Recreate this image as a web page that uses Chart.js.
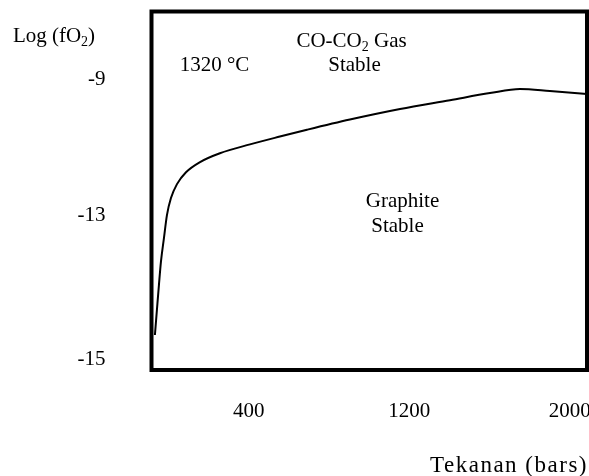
<!DOCTYPE html>
<html><head><meta charset="utf-8">
<script src="https://cdn.jsdelivr.net/npm/chart.js@4.4.1/dist/chart.umd.min.js"></script>
<style>html,body{margin:0;padding:0;background:#fff;}#wrap{width:589px;height:476px;position:relative;}</style>
</head><body><div id="wrap"><canvas id="c" width="589" height="476"></canvas></div>
<script>
// ---- data ----
const pressureBars = [-68, -58, -48, -38, -23, -8, 12, 42, 87, 157, 256, 406, 555, 690, 904, 1154, 1403, 1602, 1752, 1901, 2086];
const logFO2      = [-16.53, -15.79, -15.06, -14.38, -13.68, -13.0, -12.50, -12.09, -11.74, -11.44, -11.18, -10.92, -10.69, -10.49, -10.19, -9.88, -9.62, -9.41, -9.29, -9.35, -9.44];
const xTickValues = [400, 1200, 2000];
const xTickLabels = ['400', '1200', '2000'];
const yTickValues = [-17.26, -13, -9];
const yTickLabels = ['-15', '-13', '-9'];
const xTitle = 'Tekanan (bars)';
const yTitleParts = ['Log (fO', '2', ')'];
const tempLabel = '1320 °C';
const gasLabelParts = ['CO-CO', '2', ' Gas'];
const gasStable = 'Stable';
const graphiteLabel = 'Graphite';
const graphiteStable = 'Stable';

const FONT = '"Liberation Serif", "Times New Roman", serif';
const SIZE = 21;

function drawSub(ctx, parts, cx, cy, size) {
  ctx.font = size + 'px ' + FONT;
  const w0 = ctx.measureText(parts[0]).width;
  const w2 = ctx.measureText(parts[2]).width;
  const ss = Math.round(size * 0.65);
  ctx.font = ss + 'px ' + FONT;
  const w1 = ctx.measureText(parts[1]).width;
  let x = cx - (w0 + w1 + w2) / 2;
  ctx.textAlign = 'left';
  ctx.textBaseline = 'middle';
  ctx.font = size + 'px ' + FONT;
  ctx.fillText(parts[0], x, cy);
  x += w0;
  ctx.font = ss + 'px ' + FONT;
  ctx.fillText(parts[1], x, cy + size * 0.28);
  x += w1;
  ctx.font = size + 'px ' + FONT;
  ctx.fillText(parts[2], x, cy);
}

const frameAndLabels = {
  id: 'frameAndLabels',
  afterDatasetsDraw(chart) {
    const {ctx, chartArea: a} = chart;
    ctx.save();
    ctx.strokeStyle = '#000';
    ctx.lineWidth = 4;
    ctx.strokeRect(a.left, a.top, a.right - a.left, a.bottom - a.top);
    ctx.fillStyle = '#000';
    drawSub(ctx, yTitleParts, 54, 36, SIZE);
    ctx.font = SIZE + 'px ' + FONT;
    ctx.textAlign = 'center';
    ctx.textBaseline = 'middle';
    ctx.fillText(tempLabel, a.left + 63, a.top + 54);
    drawSub(ctx, gasLabelParts, a.left + 200, a.top + 30, SIZE);
    ctx.font = SIZE + 'px ' + FONT;
    ctx.textAlign = 'center';
    ctx.fillText(gasStable, a.left + 203, a.top + 54);
    ctx.fillText(graphiteLabel, a.left + 251, a.top + 190);
    ctx.fillText(graphiteStable, a.left + 246, a.top + 215);
    // axis name under the x axis
    ctx.font = '23px ' + FONT;
    ctx.textAlign = 'right';
    ctx.letterSpacing = '1.5px';
    ctx.fillText(xTitle, a.right + 1, 466);
    ctx.restore();
  }
};

function noPad(sc) { sc.paddingLeft = 0; sc.paddingRight = 0; sc.paddingTop = 0; sc.paddingBottom = 0; }

new Chart(document.getElementById('c'), {
  type: 'line',
  data: {
    datasets: [{
      data: pressureBars.map((p, i) => ({x: p, y: logFO2[i]})),
      borderColor: '#000',
      borderWidth: 2,
      pointRadius: 0,
      fill: false,
      cubicInterpolationMode: 'monotone'
    }]
  },
  options: {
    responsive: false,
    animation: false,
    layout: {padding: {top: 11.5, right: 2, left: 0, bottom: 0}},
    plugins: {legend: {display: false}, tooltip: {enabled: false}},
    scales: {
      x: {
        type: 'linear',
        min: -85, max: 2086,
        afterBuildTicks: (sc) => { sc.ticks = xTickValues.map(v => ({value: v})); },
        afterFit: (sc) => { sc.height = 106; noPad(sc); },
        grid: {display: false, drawTicks: false},
        border: {display: false},
        ticks: {
          padding: 29,
          color: '#000',
          maxRotation: 0,
          autoSkip: false,
          font: {family: FONT, size: SIZE},
          callback: (v) => xTickLabels[xTickValues.indexOf(v)]
        }
      },
      y: {
        type: 'linear',
        min: -17.56, max: -7.01,
        afterBuildTicks: (sc) => { sc.ticks = yTickValues.map(v => ({value: v})); },
        afterFit: (sc) => { sc.width = 151.5; noPad(sc); },
        grid: {display: false, drawTicks: false},
        border: {display: false},
        ticks: {
          padding: 46,
          color: '#000',
          autoSkip: false,
          font: {family: FONT, size: SIZE},
          callback: (v) => yTickLabels[yTickValues.indexOf(v)]
        }
      }
    }
  },
  plugins: [frameAndLabels]
});
</script>
</body></html>
